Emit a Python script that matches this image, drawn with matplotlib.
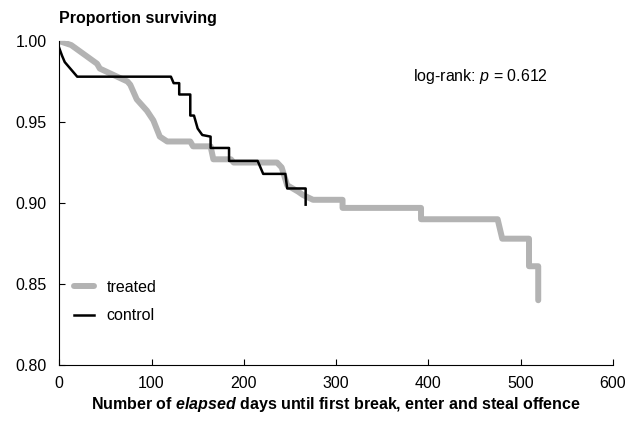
import numpy as np
import matplotlib
matplotlib.use('Agg')
import matplotlib.pyplot as plt

# survival curve vertices (time in days, proportion surviving)
treated_t = [0, 13, 41, 44, 74, 77, 84, 95, 102, 109, 117, 142, 145, 164, 167,
             186, 189, 236, 241, 247, 259, 264, 275, 307, 307, 392, 392, 475,
             480, 509, 509, 519, 519]
treated_s = [1.000, 0.9975, 0.986, 0.983, 0.975, 0.973, 0.964, 0.957, 0.951,
             0.941, 0.938, 0.938, 0.935, 0.935, 0.927, 0.927, 0.925, 0.925,
             0.922, 0.911, 0.907, 0.905, 0.902, 0.902, 0.897, 0.897, 0.890,
             0.890, 0.878, 0.878, 0.861, 0.861, 0.840]

control_t = [0, 3, 6, 19.5, 121, 124, 130, 130, 142, 142, 146, 150, 155, 164,
             164, 184, 184, 215, 221, 245, 247, 267, 267]
control_s = [0.9957, 0.991, 0.987, 0.978, 0.978, 0.974, 0.974, 0.967, 0.967,
             0.954, 0.954, 0.946, 0.942, 0.941, 0.934, 0.934, 0.926, 0.926,
             0.918, 0.918, 0.909, 0.909, 0.899]

xticks = [0, 100, 200, 300, 400, 500, 600]
yticks = [0.80, 0.85, 0.90, 0.95, 1.00]
pval = 0.612

fam = ['Liberation Sans Narrow', 'Liberation Sans', 'DejaVu Sans']
plt.rcParams['font.family'] = fam
plt.rcParams['mathtext.fontset'] = 'custom'
plt.rcParams['mathtext.rm'] = 'Liberation Sans'
plt.rcParams['mathtext.it'] = 'Liberation Sans:italic'
plt.rcParams['mathtext.bf'] = 'Liberation Sans:bold'
plt.rcParams['mathtext.bfit'] = 'Liberation Sans:italic:bold'

fig = plt.figure(figsize=(6.3, 4.23), dpi=100)
ax = fig.add_axes([0.094, 0.137, 0.879, 0.766])

ax.plot(treated_t, treated_s, color='#b3b3b3', lw=4.3, label='treated',
        solid_joinstyle='round', solid_capstyle='round')
ax.plot(control_t, control_s, color='black', lw=1.8, label='control')

ax.set_xlim(0, 600)
ax.set_ylim(0.80, 1.00)
ax.set_xticks(xticks)
ax.set_yticks(yticks)
ax.set_yticklabels(['%.2f' % v for v in yticks])
ax.tick_params(direction='in', length=4, width=0.8, labelsize=11.5)
ax.tick_params(axis='y', pad=9)
ax.tick_params(axis='x', pad=8)
ax.spines['top'].set_visible(False)
ax.spines['right'].set_visible(False)

ax.set_xlabel(r'Number of $\mathbfit{elapsed}$ days until first break, enter and steal offence',
              fontsize=11.5, fontweight='bold', labelpad=3)
fig.text(0.093, 0.957, 'Proportion surviving', fontsize=11.5, fontweight='bold',
         va='center', ha='left')

ax.text(0.639, 0.892, r'log-rank: $p$ = %.3f' % pval, transform=ax.transAxes,
        fontsize=11.5, va='center', ha='left')

ax.legend(loc='lower left', bbox_to_anchor=(0.0, 0.085), frameon=False,
          fontsize=11.5, handlelength=1.3, handletextpad=0.75, labelspacing=0.85,
          borderaxespad=0.5)

fig.savefig('out.png', dpi=100)
